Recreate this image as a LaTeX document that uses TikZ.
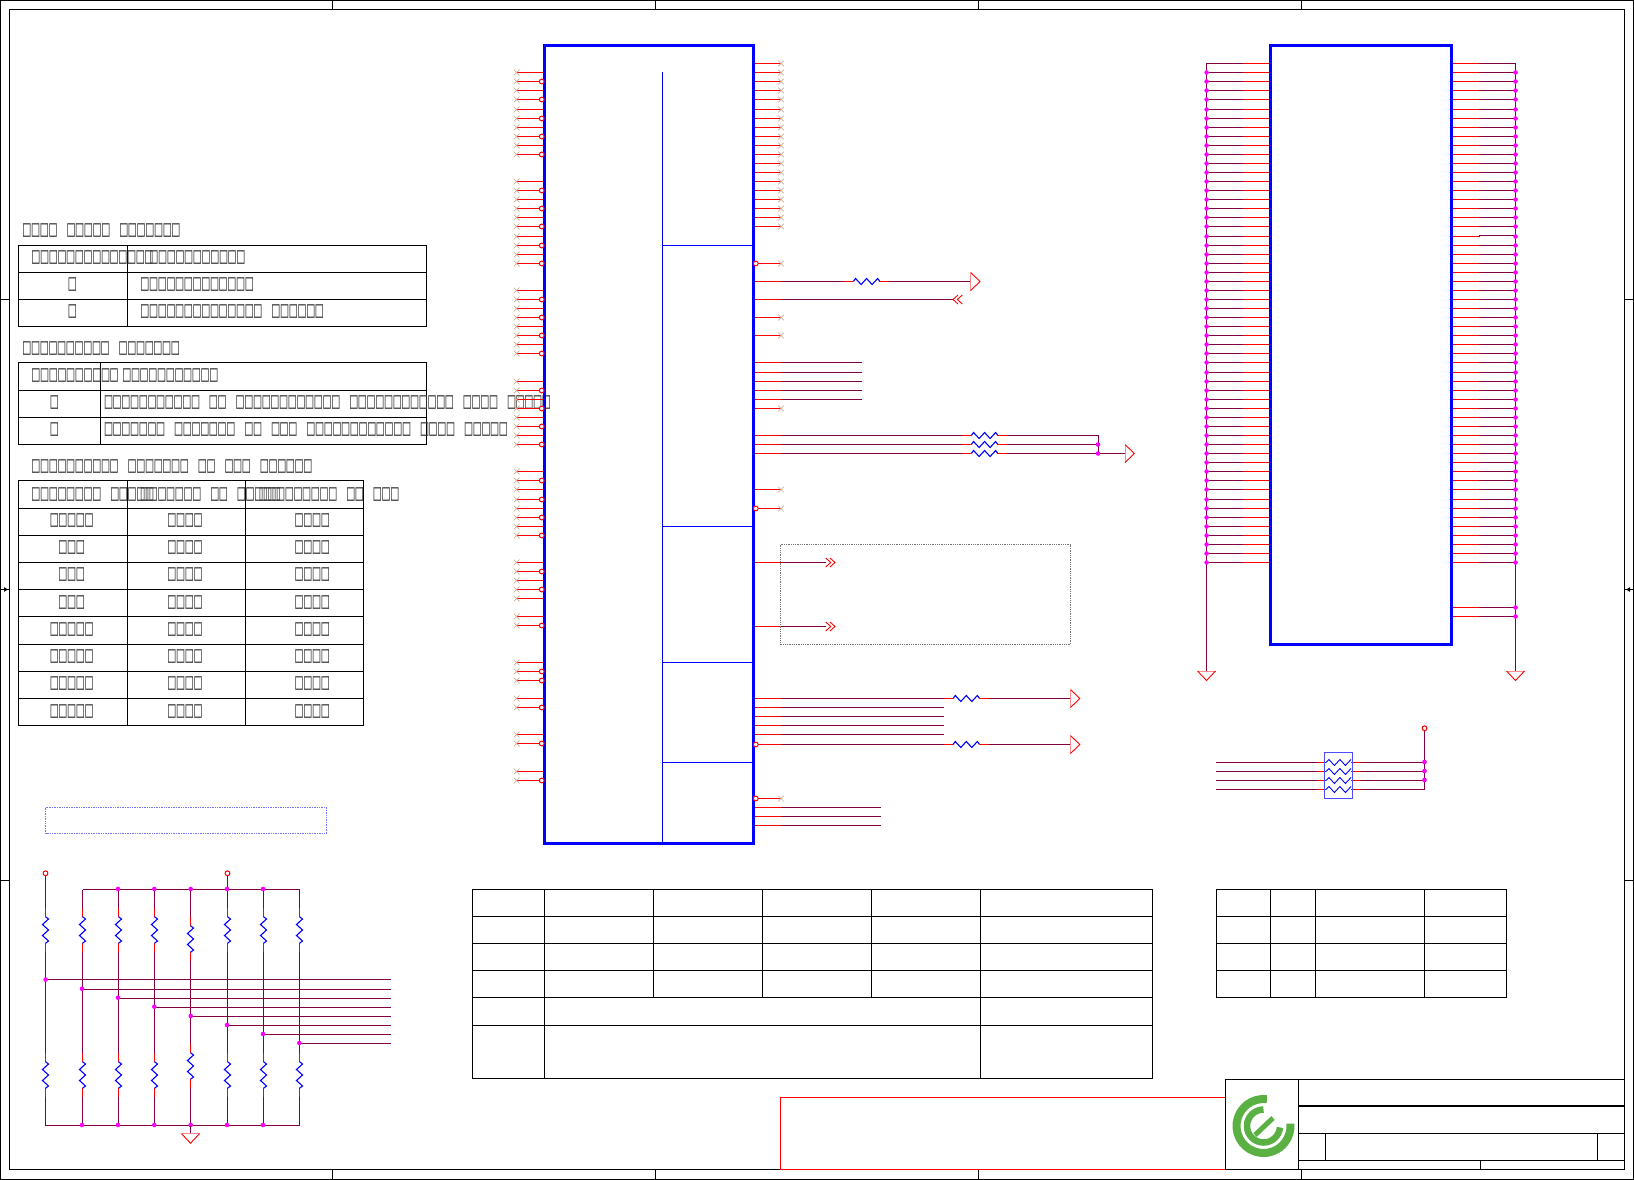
\documentclass[tikz,border=0pt]{standalone}
\usepackage{fontspec}
\setmainfont{Liberation Sans}
\newfontfamily\tofu[FakeStretch=0.545,LetterSpace=5,WordSpace=1.2]{DejaVu Sans Mono}
\definecolor{wirep}{RGB}{128,0,64}
\definecolor{pinr}{RGB}{255,0,0}
\definecolor{junc}{RGB}{255,0,255}
\definecolor{nc}{RGB}{205,175,150}
\definecolor{logog}{RGB}{91,176,67}
\tikzset{
  redw/.style={draw=pinr,line width=1.25pt},
  purw/.style={draw=wirep,line width=1.25pt},
  rzig/.style={draw=blue,line width=1.1pt,line join=miter},
  gridl/.style={draw=black,line width=1.1pt},
  framel/.style={draw=black,line width=1.1pt},
  chipbox/.style={draw=blue,line width=3pt},
  divl/.style={draw=blue,line width=1.1pt},
  txt/.style={anchor=west,inner sep=0pt,yshift=-1pt,font=\tofu\fontsize{23}{25}\selectfont,text=black!75},
  ctxt/.style={anchor=center,inner sep=0pt,yshift=-1pt,font=\tofu\fontsize{23}{25}\selectfont,text=black!75},
  ncmark/.style={draw=nc,line width=.7pt},
  invc/.style={draw=pinr,fill=white,line width=1pt},
  jdot/.style={fill=junc,draw=none},
  trir/.style={draw=pinr,line width=.9pt},
  trib/.style={draw=pinr!45,line width=1pt}
}
\newcommand{\ncx}[2]{\draw[ncmark] (#1-2.8,#2-2.8)--(#1+2.8,#2+2.8) (#1-2.8,#2+2.8)--(#1+2.8,#2-2.8);}
\newcommand{\jd}[2]{\fill[jdot] (#1,#2) circle (2.3);}
\newcommand{\invp}[2]{\draw[invc] (#1,#2) circle (2.4);}
\newcommand{\hres}[2]{\draw[rzig] (#1,#2) --++(2.3,-3)--++(5.5,6)--++(5.5,-6)--++(5.5,6)--++(5.5,-6)--++(2.3,3);}
\newcommand{\vres}[2]{\draw[rzig] (#1,#2) --++(3,2.3)--++(-6,5.5)--++(6,5.5)--++(-6,5.5)--++(6,5.5)--++(-3,2.3);}
\newcommand{\tright}[2]{\draw[trib] (#1,#2-9)--(#1,#2+9); \draw[trir] (#1,#2-9)--(#1+9.3,#2)--(#1,#2+9);}
\newcommand{\tdown}[2]{\draw[trib] (#1-9,#2)--(#1+9,#2); \draw[trir] (#1-9,#2)--(#1,#2+9.5)--(#1+9,#2);}
\newcommand{\chevr}[2]{\draw[trir] (#1,#2-4.5)--(#1+5,#2)--(#1,#2+4.5) (#1+4.3,#2-4.5)--(#1+9.3,#2)--(#1+4.3,#2+4.5);}
\newcommand{\chevl}[2]{\draw[trir] (#1+5,#2-4.5)--(#1,#2)--(#1+5,#2+4.5) (#1+9.3,#2-4.5)--(#1+4.3,#2)--(#1+9.3,#2+4.5);}
\begin{document}
\begin{tikzpicture}[x=1pt,y=-1pt]
\useasboundingbox (0,0) rectangle (1634,1180);
% frame
\draw[framel] (0.5,0.5) rectangle (1633.5,1179.5);
\draw[framel] (9.5,9.5) rectangle (1624.5,1169.5);
\foreach \x in {332.5,655.5,978.5,1301.5} {
  \draw[gridl] (\x,0.5)--(\x,9.5) (\x,1169.5)--(\x,1179.5);
}
\foreach \y in {299.5,880.5} {
  \draw[gridl] (0.5,\y)--(9.5,\y) (1624.5,\y)--(1633.5,\y);
}
\draw[gridl] (0.5,589.5)--(9.5,589.5) (1624.5,589.5)--(1633.5,589.5);
\fill[black] (8,589.5)--(4,587.2)--(4,591.8)--cycle;
\fill[black] (1626,589.5)--(1630,587.2)--(1630,591.8)--cycle;

% text above tables
\node[txt] (ta) at (23,229.5) {□□□□ □□□□□ □□□□□□□};
\draw[gridl] (18.5,245.5) rectangle (426.5,326.5);
\draw[gridl] (18.5,272.5)--(426.5,272.5) (18.5,299.5)--(426.5,299.5) (127.5,245.5)--(127.5,326.5);
\node[txt] at (32,257) {□□□□□□□□□□□□□□};
\node[txt] at (150,257) {□□□□□□□□□□□};
\node[ctxt] at (72.5,283.5) {□};
\node[txt] at (141,283.5) {□□□□□□□□□□□□□};
\node[ctxt] at (72.5,310.5) {□};
\node[txt] at (141,310.5) {□□□□□□□□□□□□□□ □□□□□□};

\node[txt] at (23,348) {□□□□□□□□□□ □□□□□□□};
\draw[gridl] (18.5,362.5) rectangle (426.5,444.5);
\draw[gridl] (18.5,390.5)--(426.5,390.5) (18.5,417.5)--(426.5,417.5) (100.5,362.5)--(100.5,444.5);
\node[txt] at (32,374.5) {□□□□□□□□□□};
\node[txt] at (122.9,374.5) {□□□□□□□□□□□};
\node[ctxt] at (54.3,401.5) {□};
\node[txt] at (104.6,401.5) {□□□□□□□□□□□ □□ □□□□□□□□□□□□ □□□□□□□□□□□□ □□□□ □□□□□};
\node[ctxt] at (54.3,428.5) {□};
\node[txt] at (104.6,428.5) {□□□□□□□ □□□□□□□ □□ □□□ □□□□□□□□□□□□ □□□□ □□□□□};

\node[txt] at (32,465.7) {□□□□□□□□□□ □□□□□□□ □□ □□□ □□□□□□};
\draw[gridl] (18.5,480.5) rectangle (363.5,725.5);
\foreach \y in {508.5,535.5,562.5,589.5,616.5,644.5,671.5,698.5} {\draw[gridl] (18.5,\y)--(363.5,\y);}
\draw[gridl] (127.5,480.5)--(127.5,725.5) (245.5,480.5)--(245.5,725.5);
\node[txt] at (32,493.5) {□□□□□□□□ □□□□□};
\node[txt] at (140.7,493.5) {□□□□□□□ □□ □□□□□};
\node[txt] at (259.3,493.5) {□□□□□□□□□ □□ □□□};
\foreach \y/\s in {519.5/□□□□□,546.5/□□□,573.5/□□□,601.5/□□□,628.5/□□□□□,655.5/□□□□□,682.5/□□□□□,710.5/□□□□□} {
  \node[ctxt] at (71.7,\y) {\s};
  \node[ctxt] at (185,\y) {□□□□};
  \node[ctxt] at (312.3,\y) {□□□□};
}
\draw[draw=blue!55,line width=.7pt,densely dotted] (45.5,807.5) rectangle (326.5,833.5);

% main chip left pins
\foreach \a/\b in {0/9,12/21,24/31,34/41,44/51,54/58,60/61,65/67,69/70,73/74,77/78} {
  \foreach \n [evaluate=\n as \y using floor(72.76+9.069*\n)+0.5] in {\a,...,\b} {
    \draw[redw] (516.7,\y)--(545,\y);
    \ncx{516.7}{\y}
  }
}
% main chip right pins to no-connect
\foreach \n [evaluate=\n as \y using floor(72.76+9.069*\n)+0.5] in {-1,0,1,2,3,4,5,6,7,8,9,10,11,12,13,14,15,16,17,21,27,29,37,46,48,80} {
  \draw[redw] (753,\y)--(781,\y);
  \ncx{781}{\y}
}
% right pins with wires
\foreach \n [evaluate=\n as \y using floor(72.76+9.069*\n)+0.5] in {32,33,34,35,36,40,41,42,70,71,72,73,81,82,83} {
  \draw[redw] (753,\y)--(781,\y);
}
\foreach \y in {281.5,299.5,562.5,626.5,698.5,744.5} {\draw[redw] (753,\y)--(781,\y);}
\foreach \n [evaluate=\n as \y using floor(72.76+9.069*\n)+0.5] in {32,33,34,35,36} {\draw[purw] (781,\y)--(862.3,\y);}
\foreach \n [evaluate=\n as \y using floor(72.76+9.069*\n)+0.5] in {81,82,83} {\draw[purw] (781,\y)--(880.5,\y);}
\foreach \n [evaluate=\n as \y using floor(72.76+9.069*\n)+0.5] in {70,71,72,73} {\draw[purw] (781,\y)--(943.5,\y);}
% n=23 resistor to triangle
\draw[purw] (781,281.5)--(844,281.5); \draw[redw] (844,281.5)--(853.3,281.5); \hres{853.3}{281.5} \draw[redw] (880,281.5)--(889.3,281.5); \draw[purw] (889.3,281.5)--(970.7,281.5); \tright{970.7}{281.5}
% n=25 chevron
\draw[purw] (781,299.5)--(953,299.5); \chevl{953}{299.5}
% bus of three
\foreach \n [evaluate=\n as \y using floor(72.76+9.069*\n)+0.5] in {40,41,42} {
  \draw[purw] (781,\y)--(962,\y); \draw[redw] (962,\y)--(971.3,\y); \hres{971.3}{\y} \draw[redw] (997.7,\y)--(1007,\y); \draw[purw] (1007,\y)--(1098.5,\y);
}
\draw[purw] (1098.5,435.5)--(1098.5,453.5)--(1125,453.5);
\jd{1098}{444.5} \jd{1098}{453.5}
\tright{1125}{453.5}
% dotted group
\draw[draw=black!55,line width=.8pt,densely dotted] (780.5,544.5) rectangle (1070.5,644.5);
\draw[purw] (781,562.5)--(825.7,562.5); \chevr{825.7}{562.5}
\draw[purw] (781,626.5)--(825.7,626.5); \chevr{825.7}{626.5}
% n=69 and 74 resistors
\foreach \y in {698.5,744.5} {
  \draw[purw] (781,\y)--(943.5,\y); \draw[redw] (943.5,\y)--(953,\y); \hres{953}{\y} \draw[redw] (979.6,\y)--(989,\y); \draw[purw] (989,\y)--(1070.5,\y); \tright{1070.5}{\y}
}
% chip body
\draw[chipbox] (544.5,45.5) rectangle (753.5,843.5);
\draw[divl] (662.5,72)--(662.5,843.5);
\foreach \y in {245.5,526.5,662.5,762.5} {\draw[divl] (662.5,\y)--(753.5,\y);}
% inversion circles
\foreach \n [evaluate=\n as \y using floor(72.76+9.069*\n)+0.5] in {1,3,5,7,9,13,15,17,19,21,25,27,29,31,35,37,39,41,45,47,49,51,55,57,61,66,67,70,74,78} {\invp{541.7}{\y}}
\foreach \n [evaluate=\n as \y using floor(72.76+9.069*\n)+0.5] in {21,48,80} {\invp{755.8}{\y}}
\invp{755.8}{744.5}

% second chip
\foreach \n [evaluate=\n as \y using floor(72.76+9.069*\n)+0.5] in {-1,0,...,54} {
  \draw[purw] (1206.5,\y)--(1243.3,\y); \draw[redw] (1243.3,\y)--(1271,\y);
  \draw[redw] (1451,\y)--(1479.3,\y); \draw[purw] (1479.3,\y)--(1515.5,\y);
}
\draw[draw=white,line width=1.25pt] (1479.8,236.5)--(1515.5,236.5);
\draw[purw] (1479.3,235.5)--(1515.5,235.5);
\foreach \n [evaluate=\n as \y using floor(72.76+9.069*\n)+0.5] in {59,60} {
  \draw[redw] (1451,\y)--(1479.3,\y); \draw[purw] (1479.3,\y)--(1515.5,\y);
}
\draw[purw] (1206.5,63.5)--(1206.5,671);
\draw[purw] (1515.5,63.5)--(1515.5,671);
\tdown{1206.5}{671} \tdown{1515.5}{671}
\foreach \n [evaluate=\n as \y using floor(72.76+9.069*\n)+0.5] in {0,...,54} { \jd{1206.6}{\y} \jd{1515.5}{\y} }
\jd{1515.5}{607.5} \jd{1515.5}{616.5}
\draw[chipbox] (1270.5,45.5) rectangle (1451.5,644);

% resistor network
\foreach \y in {762.5,771.5,780.5,789.5} {
  \draw[purw] (1215.7,\y)--(1316.7,\y); \draw[redw] (1316.7,\y)--(1326,\y);
  \draw[redw] (1351,\y)--(1361,\y); \draw[purw] (1361,\y)--(1424.5,\y);
  \draw[rzig,line width=.9pt] (1326,\y) --++(2.9,-3)--++(5.5,6)--++(5.5,-6)--++(5.5,6)--++(5.6,-6);
}
\draw[draw=blue!70,line width=1.2pt] (1324.7,752.5) rectangle (1352.3,798.5);
\draw[purw] (1424.5,731)--(1424.5,789.5);
\invp{1424.5}{728.3}
\jd{1424.5}{762} \jd{1424.5}{771} \jd{1424.5}{780}

% pull up / pull down ladder
\foreach \x/\y in {45.5/979.5,82.5/989.5,118.5/998.5,154.5/1007.5,190.5/1016.5,227.5/1025.5,263.5/1034.5,299.5/1043.5} {
  \draw[purw] (\x,\y)--(390.7,\y);
}
\draw[purw] (82.5,889.5)--(299.5,889.5);
\draw[purw] (45.5,1125.5)--(299.5,1125.5);
\foreach \x/\d in {45.5/0,82.5/0,118.5/0,154.5/0,190.5/9,227.5/0,263.5/0,299.5/0} {
  \pgfmathsetmacro\ya{916.7+\d}
  \pgfmathsetmacro\ra{\ya-9}
  \pgfmathsetmacro\rb{\ya+26.6}
  \pgfmathsetmacro\rc{\rb+9}
  \pgfmathsetmacro\yb{1061.7-\d}
  \pgfmathsetmacro\sa{\yb-9}
  \pgfmathsetmacro\sb{\yb+26.6}
  \pgfmathsetmacro\sc{\sb+9}
  \draw[redw] (\x,\ra)--(\x,\ya) (\x,\rb)--(\x,\rc) (\x,\sa)--(\x,\yb) (\x,\sb)--(\x,\sc);
  \draw[purw] (\x,\rc)--(\x,\sa) (\x,\sc)--(\x,1125.5);
  \vres{\x}{\ya}
  \vres{\x}{\yb}
}
\draw[purw] (45.5,876)--(45.5,907.7);
\draw[purw] (227.5,876)--(227.5,907.7);
\foreach \x in {82.5,118.5,154.5,263.5,299.5} {\draw[purw] (\x,889.5)--(\x,907.7);}
\draw[purw] (190.5,889.5)--(190.5,916.7);
\invp{45.5}{873.3} \invp{227.5}{873.3}
\foreach \x in {118,154.3,190.7,227,263} {\jd{\x}{889}}
\foreach \x in {82,118,154.3,190.7,227,263} {\jd{\x}{1125}}
\foreach \x/\y in {45.7/979.6,82/988.7,118/997.7,154.3/1006.7,190.7/1016,227/1025,263/1034,299.3/1043} {\jd{\x}{\y}}
\draw[purw] (190.5,1125.5)--(190.5,1133.7);
\tdown{190.5}{1133.7}

% bottom tables
\draw[gridl] (472.5,889.5) rectangle (1152.5,1078.5);
\foreach \y in {916.5,943.5,970.5,997.5,1025.5} {\draw[gridl] (472.5,\y)--(1152.5,\y);}
\foreach \x in {544.5,980.5} {\draw[gridl] (\x,889.5)--(\x,1078.5);}
\foreach \x in {653.5,762.5,871.5} {\draw[gridl] (\x,889.5)--(\x,997.5);}
\draw[gridl] (1216.5,889.5) rectangle (1506.5,997.5);
\foreach \y in {916.5,943.5,970.5} {\draw[gridl] (1216.5,\y)--(1506.5,\y);}
\foreach \x in {1270.5,1315.5,1424.5} {\draw[gridl] (\x,889.5)--(\x,997.5);}

% red outline to the title block
\draw[redw] (1225.5,1097.5)--(780.5,1097.5)--(780.5,1169.5)--(1225.5,1169.5);

% title block
\draw[draw=black,line width=1.3pt] (1225.5,1079.5) rectangle (1624.5,1169.5);
\draw[draw=black,line width=1.1pt] (1298.5,1079.5)--(1298.5,1169.5);
\draw[draw=black,line width=2pt] (1298.5,1105.5)--(1624.5,1105.5);
\draw[gridl] (1298.5,1133.5)--(1624.5,1133.5) (1298.5,1160.5)--(1624.5,1160.5);
\draw[gridl] (1325.5,1133.5)--(1325.5,1160.5) (1597.5,1133.5)--(1597.5,1160.5) (1480.5,1160.5)--(1480.5,1169.5);
% logo
\draw[draw=logog,line width=8pt] (1266.8,1099.2) arc[start angle=-83,delta angle=-282,radius=27];
\draw[draw=logog,line width=6.5pt] (1263.5,1109.5) arc[start angle=-90,delta angle=-265,radius=16.5];
\draw[draw=logog,line width=5pt] (1255,1135)--(1273,1118);
\end{tikzpicture}
\end{document}
